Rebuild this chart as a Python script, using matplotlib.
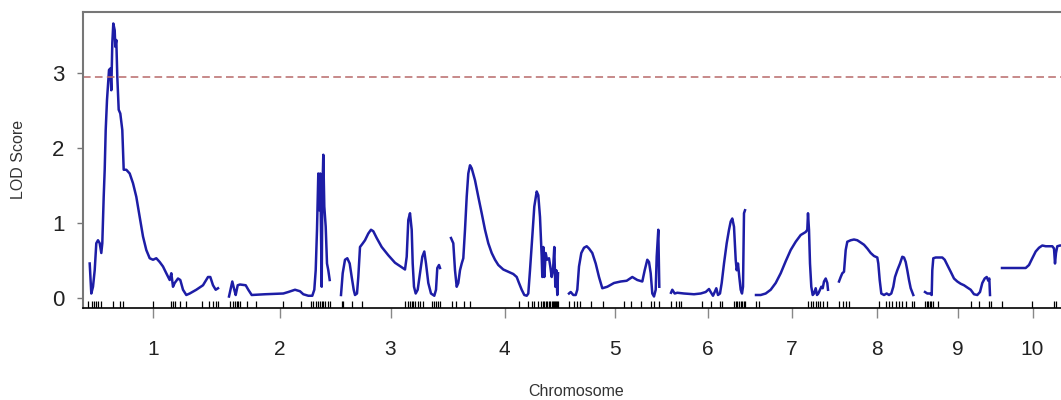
import numpy as np
import matplotlib.pyplot as plt

# LOD profile per chromosome: positions (cM) and LOD values
chroms = ["1", "2", "3", "4", "5", "6", "7", "8", "9", "10"]
chrom_len = [130, 101, 99, 107, 91, 74, 72, 75, 66, 61]

pos1 = [1.7, 3.3, 5.0, 6.7, 8.3, 10.0, 11.7, 13.3, 14.3, 15.7, 16.7, 17.7, 19.0, 21.0, 22.3, 23.3, 24.3, 25.3,
        26.7, 27.3, 28.3, 29.3, 30.7, 32.3, 34.3, 35.7, 38.3, 41.7, 45.0, 48.3, 51.7, 55.0, 58.3, 61.7, 65.0,
        68.3, 71.7, 75.0, 78.3, 81.7, 83.3, 85.0, 86.7, 90.0, 92.3, 95.0, 98.3, 101.7, 108.3, 115.0, 120.0,
        122.3, 125.0, 127.7, 130.0]
lod1 = [0.46, 0.06, 0.15, 0.37, 0.73, 0.77, 0.73, 0.60, 0.73, 1.35, 1.71, 2.24, 2.64, 3.04, 3.06, 2.77, 3.40, 3.66,
        3.57, 3.35, 3.44, 2.95, 2.51, 2.46, 2.24, 1.71, 1.71, 1.66, 1.53, 1.35, 1.08, 0.82, 0.64, 0.53, 0.51,
        0.53, 0.48, 0.42, 0.33, 0.24, 0.33, 0.15, 0.20, 0.26, 0.24, 0.11, 0.04, 0.06, 0.11, 0.17, 0.28,
        0.28, 0.17, 0.11, 0.13]

pos2 = [0.0, 3.3, 5.3, 6.7, 8.7, 11.0, 16.7, 19.3, 22.7, 36.0, 54.3, 59.3, 66.0, 71.0, 74.3, 79.3, 83.3, 85.3,
        86.7, 88.0, 89.3, 90.3, 91.3, 92.7, 93.3, 94.3, 95.3, 96.7, 98.0, 99.3, 100.7]
lod2 = [0.02, 0.22, 0.11, 0.04, 0.17, 0.18, 0.17, 0.11, 0.04, 0.05, 0.06, 0.08, 0.11, 0.09, 0.05, 0.03, 0.03, 0.11,
        0.37, 0.91, 1.66, 1.17, 1.66, 0.15, 1.35, 1.91, 1.22, 0.95, 0.46, 0.37, 0.24]

pos3 = [0.0, 1.7, 4.0, 6.3, 8.7, 10.7, 12.7, 14.0, 16.0, 17.3, 19.0, 21.3, 24.0, 27.3, 30.0, 32.3, 35.7, 40.7,
        47.3, 54.0, 60.7, 64.0, 65.7, 67.3, 69.0, 70.7, 71.7, 73.0, 74.7, 76.7, 79.0, 81.3, 83.3, 85.0, 87.3,
        90.0, 93.3, 95.0, 96.3, 98.0, 99.0]
lod3 = [0.04, 0.33, 0.51, 0.53, 0.46, 0.28, 0.11, 0.04, 0.06, 0.28, 0.68, 0.72, 0.77, 0.86, 0.91, 0.89, 0.80, 0.68,
        0.57, 0.47, 0.41, 0.38, 0.55, 1.04, 1.13, 0.91, 0.46, 0.15, 0.06, 0.11, 0.33, 0.55, 0.62, 0.46, 0.20,
        0.06, 0.03, 0.11, 0.40, 0.44, 0.40]

pos4 = [0.0, 2.3, 4.0, 5.7, 7.3, 9.0, 10.7, 12.3, 14.0, 15.7, 17.3, 19.0, 20.7, 24.0, 27.3, 30.7, 34.0, 37.3,
        40.7, 44.0, 47.3, 52.3, 57.3, 62.3, 65.7, 68.0, 70.7, 73.3, 75.7, 77.3, 79.0, 81.3, 83.3, 85.7, 87.3,
        89.0, 90.7, 91.3, 92.3, 93.3, 94.7, 96.0, 98.0, 99.3, 100.7, 102.0, 103.3, 104.3, 105.3, 106.3, 107.0]
lod4 = [0.80, 0.73, 0.37, 0.15, 0.20, 0.37, 0.46, 0.53, 0.91, 1.35, 1.66, 1.77, 1.73, 1.57, 1.35, 1.13, 0.91, 0.73,
        0.60, 0.51, 0.44, 0.38, 0.35, 0.32, 0.28, 0.20, 0.11, 0.04, 0.03, 0.06, 0.37, 0.82, 1.22, 1.42, 1.37,
        1.08, 0.55, 0.28, 0.68, 0.28, 0.60, 0.51, 0.53, 0.42, 0.28, 0.37, 0.68, 0.15, 0.37, 0.04, 0.33]

pos5 = [0.0, 1.7, 4.3, 6.7, 8.3, 10.0, 12.3, 15.0, 17.7, 20.0, 23.3, 26.7, 30.0, 33.3, 38.3, 45.0, 51.7, 57.7,
        63.3, 68.3, 73.3, 75.7, 78.3, 80.0, 81.7, 83.3, 85.0, 86.7, 87.7, 89.3, 90.3]
lod5 = [0.06, 0.08, 0.04, 0.04, 0.11, 0.42, 0.60, 0.67, 0.69, 0.66, 0.60, 0.46, 0.28, 0.13, 0.15, 0.20, 0.22, 0.23,
        0.28, 0.24, 0.22, 0.37, 0.51, 0.48, 0.33, 0.06, 0.02, 0.11, 0.55, 0.91, 0.15]

pos6 = [0.0, 1.3, 3.7, 6.3, 13.0, 23.0, 29.7, 34.7, 38.0, 39.7, 42.0, 43.7, 45.3, 47.0, 49.0, 50.7, 53.0, 55.7,
        58.0, 59.7, 61.3, 63.0, 64.7, 65.7, 67.0, 68.3, 69.7, 71.0, 72.0, 73.0, 74.0]
lod6 = [0.07, 0.11, 0.06, 0.07, 0.06, 0.05, 0.06, 0.08, 0.12, 0.08, 0.03, 0.08, 0.13, 0.04, 0.06, 0.20, 0.46, 0.73,
        0.91, 1.02, 1.06, 0.95, 0.51, 0.37, 0.46, 0.28, 0.11, 0.06, 0.15, 1.13, 1.17]

pos7 = [0.0, 4.7, 9.7, 14.7, 19.7, 24.7, 29.7, 34.7, 39.7, 44.7, 49.7, 51.3, 52.0, 53.0, 54.0, 55.3, 56.7, 58.0,
        59.7, 61.0, 62.3, 64.0, 65.3, 66.7, 68.0, 69.7, 71.3, 72.0]
lod7 = [0.04, 0.04, 0.06, 0.11, 0.20, 0.33, 0.49, 0.64, 0.75, 0.84, 0.88, 0.91, 1.13, 0.91, 0.46, 0.15, 0.04, 0.06,
        0.13, 0.04, 0.06, 0.11, 0.15, 0.13, 0.22, 0.26, 0.20, 0.11]

pos8 = [0.0, 1.7, 3.3, 5.0, 6.7, 8.3, 11.7, 15.0, 18.3, 21.7, 25.0, 28.3, 31.7, 35.0, 38.3, 39.3, 40.7, 42.3,
        45.0, 47.7, 50.0, 52.3, 54.3, 56.0, 58.3, 61.0, 63.3, 65.0, 66.7, 68.3, 70.0, 71.7, 74.3]
lod8 = [0.22, 0.28, 0.33, 0.35, 0.64, 0.75, 0.77, 0.78, 0.77, 0.74, 0.71, 0.66, 0.60, 0.56, 0.54, 0.46, 0.24, 0.06,
        0.04, 0.06, 0.04, 0.06, 0.15, 0.28, 0.37, 0.46, 0.55, 0.54, 0.48, 0.37, 0.24, 0.13, 0.04]

pos9 = [0.0, 2.3, 5.0, 6.7, 7.3, 8.3, 10.7, 14.0, 17.3, 19.7, 22.3, 25.7, 29.0, 32.3, 35.7, 39.0, 42.3, 45.7,
        49.0, 52.3, 55.0, 57.3, 59.7, 61.7, 63.3, 64.3, 65.0]
lod9 = [0.08, 0.06, 0.06, 0.04, 0.37, 0.53, 0.54, 0.54, 0.54, 0.51, 0.44, 0.35, 0.26, 0.22, 0.19, 0.17, 0.14, 0.11,
        0.05, 0.04, 0.08, 0.20, 0.26, 0.28, 0.23, 0.26, 0.04]

pos10 = [0.0, 12.0, 23.7, 27.0, 30.3, 33.7, 37.0, 40.3, 43.7, 47.0, 50.3, 52.0, 53.0, 54.0, 55.3, 58.0, 61.0]
lod10 = [0.40, 0.40, 0.40, 0.44, 0.53, 0.62, 0.67, 0.70, 0.69, 0.69, 0.69, 0.66, 0.46, 0.60, 0.69, 0.70, 0.70]

# marker positions (rug)
markers = [
    [0, 4.3, 6, 7.7, 10, 13.3, 25, 31.7, 35, 65, 83.3, 85, 86.7, 91.7, 98.3, 114.3, 121, 125, 127.7, 130],
    [1, 4.3, 6, 7.7, 9.3, 11, 17.7, 26.7, 54.3, 72, 82, 84.3, 86.7, 89.3, 91, 92.7, 94.3, 96, 98.7, 101],
    [0.7, 1.7, 11.3, 21.3, 64, 66.7, 69, 70.7, 72.3, 74, 76.7, 79, 82.3, 91.3, 93.3, 94.7, 96.7, 99],
    [0.7, 4.7, 13.3, 19, 68, 77.3, 80.7, 83.3, 87.3, 90, 91.5, 93, 94.5, 96, 97.5, 99, 100.5, 102, 103, 104,
     105, 106, 107],
    [0, 5, 7.7, 11, 21.7, 34.3, 55, 61.7, 71.7, 81.7, 85, 90],
    [0.3, 4.7, 8, 9.7, 31.3, 39.7, 49, 51.3, 63, 64.7, 66.3, 68, 69.7, 71.3, 73, 74],
    [0, 3, 52, 54.7, 57.3, 59.7, 62, 64, 67.3, 71.3],
    [0, 4.3, 6.7, 10, 40, 46.7, 50, 53.3, 56.7, 60, 63.3, 66.7, 73.3, 75],
    [0, 1.7, 3.3, 5, 6.3, 8, 13, 45.7, 54, 64, 65.7],
    [0, 30, 52, 53.7],
]

positions = [pos1, pos2, pos3, pos4, pos5, pos6, pos7, pos8, pos9, pos10]
lods = [lod1, lod2, lod3, lod4, lod5, lod6, lod7, lod8, lod9, lod10]
threshold = 2.95
gap = 11

plt.rcParams['font.family'] = ['Liberation Sans', 'DejaVu Sans']

fig = plt.figure(figsize=(10.61, 4.0), dpi=100)
ax = fig.add_axes([83 / 1061, 92 / 400, 992 / 1061, 296 / 400])

offsets = np.concatenate([[0], np.cumsum(np.array(chrom_len[:-1]) + gap)])
mids = offsets + np.array(chrom_len) / 2

for i in range(len(chroms)):
    x = offsets[i] + np.array(positions[i])
    ax.plot(x, lods[i], color='#1d1da6', lw=1.8, solid_joinstyle='round')
    ax.vlines(offsets[i] + np.array(markers[i]), 0.0, 0.025, color='black', lw=0.9,
              transform=ax.get_xaxis_transform())

ax.axhline(threshold, color='#b86a6a', lw=1.1, dashes=(5, 2.8))

ax.set_xlim(-5, 987)
ax.set_ylim(-10 / 75, 286 / 75)

ax.set_yticks([0, 1, 2, 3])
ax.set_xticks(mids)
ax.set_xticklabels(chroms)
ax.tick_params(axis='y', length=4.5, width=1, color='#777777', labelsize=16, pad=9,
               labelcolor='#222222')
ax.tick_params(axis='x', length=7, width=1, color='#888888', labelsize=15, pad=16,
               labelcolor='#222222')

for s in ['top', 'left']:
    ax.spines[s].set_color('#777777')
    ax.spines[s].set_linewidth(1.5)
ax.spines['bottom'].set_color('black')
ax.spines['bottom'].set_linewidth(1.2)
ax.spines['right'].set_visible(False)

fig.text(576 / 1061, 1 - 391 / 400, "Chromosome", ha='center', va='center', fontsize=11.5, color='#333333')
fig.text(19 / 1061, 1 - 159 / 400, "LOD Score", ha='center', va='center', rotation=90, fontsize=11.5,
         color='#333333')

fig.savefig("out.png", dpi=100)
